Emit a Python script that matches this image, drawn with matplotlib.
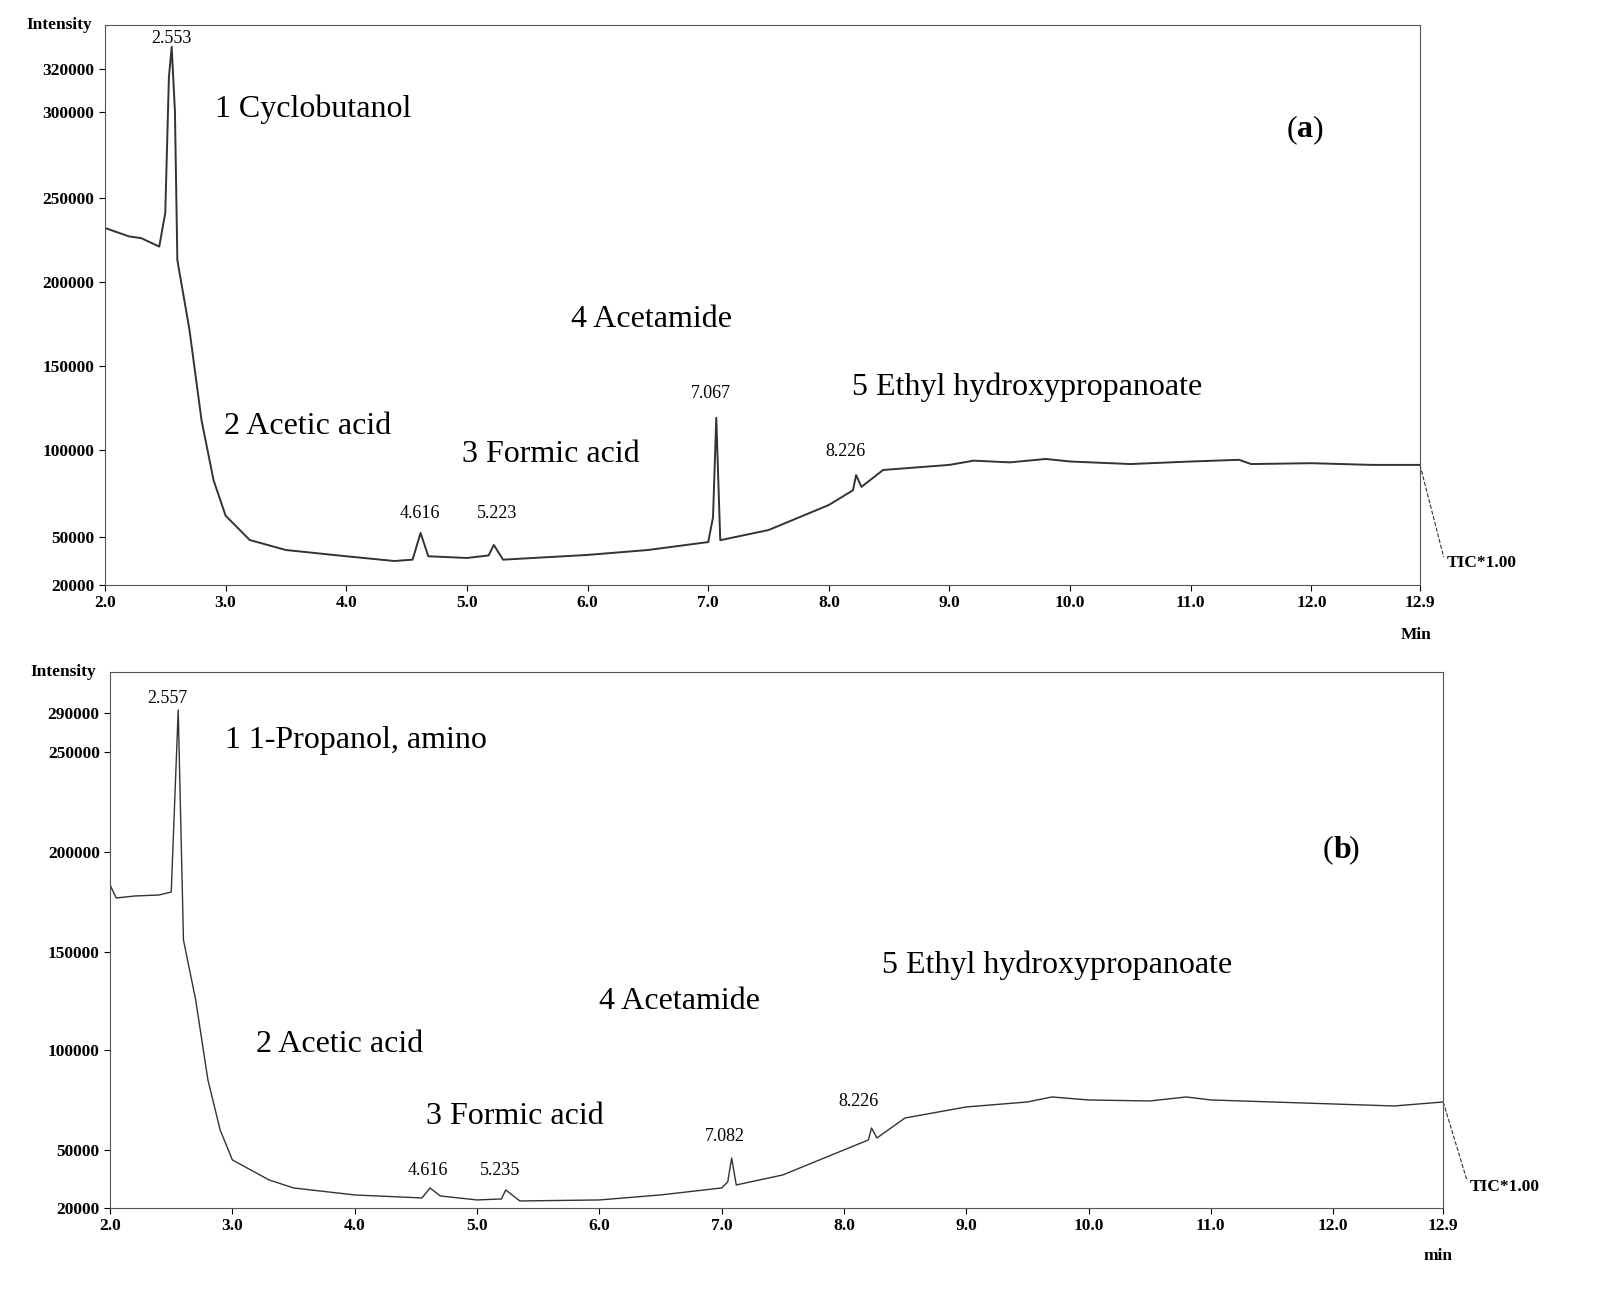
import matplotlib.pyplot as plt

plt.rcParams['font.family'] = ['Liberation Serif', 'DejaVu Serif']

# ---- panel (a) trace ----
ta = [2.0, 2.1, 2.2, 2.3, 2.45, 2.5, 2.53, 2.553, 2.58, 2.6, 2.7, 2.8, 2.9, 3.0, 3.2, 3.5, 4.0, 4.4, 4.55,
      4.616, 4.68, 5.0, 5.18, 5.223, 5.3, 5.5, 6.0, 6.5, 7.0, 7.04, 7.067, 7.1, 7.5, 8.0, 8.2, 8.226, 8.27,
      8.45, 9.0, 9.2, 9.5, 9.8, 10.0, 10.5, 11.0, 11.4, 11.5, 12.0, 12.5, 12.9]
ia = [231000, 228500, 226000, 225000, 220000, 240000, 320000, 338000, 300000, 212000, 171000, 117600,
      82000, 61000, 46600, 40700, 37000, 34200, 35000, 50800, 37000, 36000, 37500, 43700, 35000, 35800,
      37800, 40700, 45400, 60000, 118800, 46500, 52500, 67300, 76000, 85000, 78000, 88000, 91000, 93500,
      92500, 94500, 93000, 91500, 93000, 94000, 91500, 92000, 91000, 91000]
ticks_a = [20000, 48400, 99900, 149600, 199300, 249000, 299300, 324700]
labels_a = ['20000', '50000', '100000', '150000', '200000', '250000', '300000', '320000']

# ---- panel (b) trace ----
tb = [2.0, 2.05, 2.2, 2.4, 2.5, 2.557, 2.6, 2.7, 2.8, 2.9, 3.0, 3.3, 3.5, 4.0, 4.55, 4.616, 4.7, 5.0,
      5.2, 5.235, 5.35, 6.0, 6.5, 7.0, 7.05, 7.082, 7.12, 7.5, 8.0, 8.2, 8.226, 8.27, 8.5, 9.0, 9.5,
      9.7, 10.0, 10.5, 10.8, 11.0, 11.5, 12.0, 12.5, 12.9]
ib = [181500, 175000, 176000, 176500, 178000, 269000, 154000, 124000, 84000, 59000, 44000, 34000,
      30000, 26500, 25000, 30000, 26000, 24000, 24500, 29000, 23500, 24000, 26500, 30000, 33000, 45000,
      31500, 36500, 49000, 54000, 60000, 55000, 65000, 70500, 73000, 75500, 74000, 73500, 75500, 74000,
      73000, 72000, 71000, 73000]
ticks_b = [20000, 49000, 99000, 148000, 198000, 248000, 267500]
labels_b = ['20000', '50000', '100000', '150000', '200000', '250000', '290000']

xticks = [2.0, 3.0, 4.0, 5.0, 6.0, 7.0, 8.0, 9.0, 10.0, 11.0, 12.0, 12.9]

compounds_a = [("1 Cyclobutanol", 2.91, 301000), ("2 Acetic acid", 2.99, 113500),
               ("3 Formic acid", 4.96, 97000), ("4 Acetamide", 5.86, 177000),
               ("5 Ethyl hydroxypropanoate", 8.19, 136600)]
peaks_a = [("2.553", 2.55, 343000), ("4.616", 4.61, 62000), ("5.223", 5.25, 62000),
           ("7.067", 7.02, 133000), ("8.226", 8.14, 99000)]
compounds_b = [("1 1-Propanol, amino", 2.94, 254000), ("2 Acetic acid", 3.19, 101500),
               ("3 Formic acid", 4.58, 65500), ("4 Acetamide", 6.0, 123000),
               ("5 Ethyl hydroxypropanoate", 8.31, 141500)]
peaks_b = [("2.557", 2.47, 275000), ("4.616", 4.6, 38500), ("5.235", 5.19, 38500),
           ("7.082", 7.03, 55500), ("8.226", 8.12, 73000)]

fig = plt.figure(figsize=(16, 13.1), dpi=100)
ax1 = fig.add_axes([0.0656, 0.5534, 0.8219, 0.4276])
ax2 = fig.add_axes([0.0688, 0.0779, 0.8332, 0.4091])


def draw(ax, t, i, ticks, labels, ylim, comps, peaks, tag, xlab, tagpos, lw):
    ax.plot(t, i, color='#333333', lw=lw)
    ax.set_xlim(2.0, 12.9)
    ax.set_ylim(*ylim)
    ax.set_yticks(ticks, labels)
    ax.set_xticks(xticks, [f"{v:.1f}" for v in xticks])
    for lbl in ax.get_xticklabels() + ax.get_yticklabels():
        lbl.set_fontweight('bold')
        lbl.set_fontsize(12.5)
    ax.tick_params(length=4, width=0.8)
    for s in ax.spines.values():
        s.set_color('#555555')
        s.set_linewidth(0.8)
    for txt, x, y in comps:
        ax.text(x, y, txt, fontsize=23, va='center', ha='left')
    for txt, x, y in peaks:
        ax.text(x, y, txt, fontsize=13, va='center', ha='center')
    ax.text(tagpos[0], tagpos[1], '(', fontsize=23, va='center', ha='right')
    ax.text(tagpos[0], tagpos[1], tag, fontsize=23, va='center', ha='left', fontweight='bold')
    ax.text(tagpos[0] + 0.13, tagpos[1], ')', fontsize=23, va='center', ha='left')
    ax.text(-0.06, 1.0, 'Intensity', transform=ax.transAxes, fontsize=12.5, fontweight='bold',
            va='center', ha='left')
    ax.text(0.985, -0.09, xlab, transform=ax.transAxes, fontsize=12.5, fontweight='bold', va='center')
    ax.plot([1.0, 1.018], [(i[-1] - ylim[0]) / (ylim[1] - ylim[0]), 0.05],
            transform=ax.transAxes, ls='--', lw=0.8, color='#333333', clip_on=False)
    ax.text(1.02, 0.04, 'TIC*1.00', transform=ax.transAxes, fontsize=12.5, fontweight='bold',
            va='center', ha='left')


draw(ax1, ta, ia, ticks_a, labels_a, (20000, 351000), compounds_a, peaks_a, 'a', 'Min', (11.88, 289000), 1.4)
draw(ax2, tb, ib, ticks_b, labels_b, (20000, 288000), compounds_b, peaks_b, 'b', 'min', (12.0, 199000), 1.0)

fig.savefig('out.png', dpi=100)
